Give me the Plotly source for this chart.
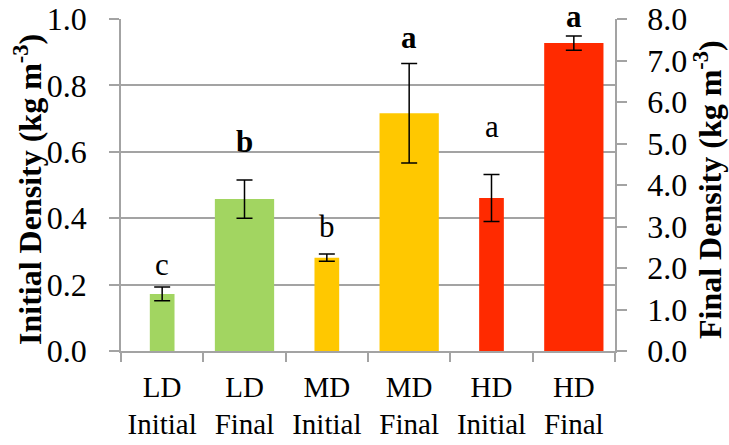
import plotly.graph_objects as go

categories = ["LD<br>Initial", "LD<br>Final", "MD<br>Initial", "MD<br>Final", "HD<br>Initial", "HD<br>Final"]
initial_cats = ["LD<br>Initial", "MD<br>Initial", "HD<br>Initial"]
final_cats = ["LD<br>Final", "MD<br>Final", "HD<br>Final"]
initial_density = [0.172, 0.281, 0.461]      # kg m-3, left axis
initial_err = [0.021, 0.011, 0.071]
final_density = [3.66, 5.73, 7.42]           # kg m-3, right axis
final_err = [0.46, 1.20, 0.17]
colors = ["#a2d561", "#ffc800", "#ff2a00"]
sig_letters = ["c", "b", "b", "a", "a", "a"]
sig_bold = [False, True, False, True, False, True]
sig_y = [0.229, 0.600, 0.343, 0.913, 0.645, 0.976]  # label baselines, left axis units

FONT = "Liberation Serif, Times New Roman, serif"
GRID = "#a3a3a3"

fig = go.Figure()
fig.add_trace(go.Bar(
    x=initial_cats, y=initial_density, width=0.30, marker_color=colors, marker_line_width=0,
    error_y=dict(type="data", array=initial_err, color="black", thickness=1.5, width=8),
    yaxis="y", showlegend=False))
fig.add_trace(go.Bar(
    x=final_cats, y=final_density, width=0.72, marker_color=colors, marker_line_width=0,
    error_y=dict(type="data", array=final_err, color="black", thickness=1.5, width=8),
    yaxis="y2", showlegend=False))

for cat, letter, bold, yv in zip(categories, sig_letters, sig_bold, sig_y):
    fig.add_annotation(x=cat, y=yv, xref="x", yref="y", text=f"<b>{letter}</b>" if bold else letter,
                       showarrow=False, yanchor="bottom", yshift=-9,
                       font=dict(family=FONT, size=31, color="black"))

fig.add_annotation(x=28, y=190, xref="paper", yref="paper", text="<b>Initial Density (kg m<sup>-3</sup>)</b>",
                   showarrow=False, textangle=-90, font=dict(family=FONT, size=32, color="black"))
fig.add_annotation(x=708, y=190, xref="paper", yref="paper", text="<b>Final Density (kg m<sup>-3</sup>)</b>",
                   showarrow=False, textangle=-90, font=dict(family=FONT, size=32, color="black"))

fig.update_layout(
    width=729, height=445, margin=dict(l=121, r=114, t=19, b=94),
    paper_bgcolor="white", plot_bgcolor="white", barmode="overlay",
    font=dict(family=FONT, size=30, color="black"),
    xaxis=dict(categoryorder="array", categoryarray=categories, showline=True, linecolor=GRID, linewidth=1.5,
               ticks="outside", tickson="boundaries", ticklen=9, tickcolor=GRID, tickwidth=1.5,
               ticklabelstandoff=9, showgrid=False, mirror=False, tickangle=0, automargin=False,
               tickfont=dict(size=29)),
    yaxis=dict(range=[0, 1.0], dtick=0.2, tickformat=".1f", showline=True, linecolor=GRID, linewidth=1.5,
               ticks="outside", ticklen=10, tickcolor=GRID, tickwidth=1.5, showgrid=True, gridcolor=GRID,
               gridwidth=1.5, zeroline=False, ticklabelstandoff=16, automargin=False, tickfont=dict(size=32)),
    yaxis2=dict(range=[0, 8.0], dtick=1.0, tickformat=".1f", overlaying="y", side="right", showline=True,
                linecolor=GRID, linewidth=1.5, ticks="outside", ticklen=10, tickcolor=GRID, tickwidth=1.5,
                showgrid=False, zeroline=False, ticklabelstandoff=14, automargin=False, tickfont=dict(size=32)),
)

# convert paper annotations given in pixels
for ann in fig.layout.annotations:
    if ann.xref == "paper":
        ann.x = (ann.x - 121) / (729 - 121 - 114)
        ann.y = 1 - (ann.y - 19) / (445 - 19 - 94)
        ann.xanchor = "center"
        ann.yanchor = "middle"

fig.write_html("out.html")
